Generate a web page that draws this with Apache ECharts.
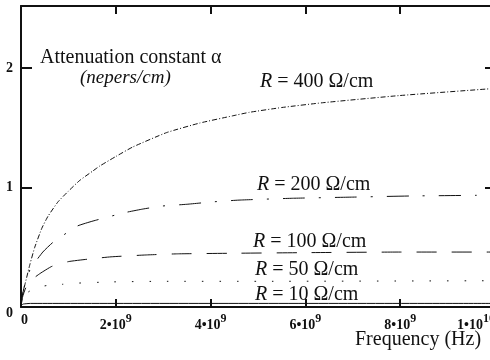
<!DOCTYPE html>
<html>
<head>
<meta charset="utf-8">
<script src="https://cdn.jsdelivr.net/npm/echarts@6/dist/echarts.min.js"></script>
<style>html,body{margin:0;padding:0;background:#fff}#c{width:490px;height:360px}</style>
</head>
<body>
<div id="c"></div>
<script>
// ---- data (frequency in Hz, attenuation in nepers/cm) ----
var f400 = [0, 0.03e9, 0.084e9, 0.19e9, 0.29e9, 0.44e9, 0.57e9, 0.78e9, 1.0e9, 1.24e9, 1.52e9, 1.66e9, 2.0e9, 2.36e9, 3.07e9, 3.77e9, 4.46e9, 4.82e9, 5.5e9, 6.36e9, 7.98e9, 10e9];
var a400 = [0, 0.10, 0.19, 0.36, 0.50, 0.66, 0.76, 0.88, 0.97, 1.06, 1.14, 1.18, 1.26, 1.34, 1.46, 1.54, 1.60, 1.63, 1.67, 1.71, 1.77, 1.83];
var f200 = [0, 0.03e9, 0.1e9, 0.2e9, 0.46e9, 0.67e9, 1.0e9, 1.2e9, 1.52e9, 2.19e9, 2.57e9, 2.97e9, 3.5e9, 4.04e9, 4.6e9, 5.7e9, 7.0e9, 8.3e9, 9.6e9, 10e9];
var a200 = [0, 0.10, 0.22, 0.32, 0.46, 0.54, 0.63, 0.68, 0.72, 0.79, 0.82, 0.845, 0.86, 0.88, 0.895, 0.91, 0.92, 0.93, 0.935, 0.94];
var f100 = [0, 0.03e9, 0.1e9, 0.2e9, 0.4e9, 0.65e9, 1.0e9, 1.4e9, 1.9e9, 2.6e9, 3.3e9, 4.5e9, 6e9, 8e9, 10e9];
var a100 = [0, 0.08, 0.16, 0.22, 0.28, 0.34, 0.38, 0.40, 0.42, 0.435, 0.445, 0.45, 0.455, 0.46, 0.46];
var f50 = [0, 0.02e9, 0.1e9, 0.3e9, 0.55e9, 0.87e9, 1.2e9, 1.9e9, 3e9, 5e9, 10e9];
var a50 = [0, 0.05, 0.11, 0.16, 0.18, 0.19, 0.20, 0.21, 0.215, 0.215, 0.22];
var f10 = [0, 0.01e9, 0.05e9, 0.2e9, 10e9];
var a10 = [0, 0.015, 0.025, 0.03, 0.03];

var xTickValues = [0, 2e9, 4e9, 6e9, 8e9, 1e10];
var xTickMant = ['0', '2\u202210', '4\u202210', '6\u202210', '8\u202210', '1\u202210'];
var xTickExp = ['', '9', '9', '9', '9', '10'];
var yTickLabels = ['0', '1', '2'];
var curveLabels = ['400', '200', '100', '50', '10'];

function pairs(xs, ys) { return xs.map(function (x, i) { return [x, ys[i]]; }); }

var SERIF = '"Liberation Serif", "Times New Roman", serif';
var INK = '#111';

var chart = echarts.init(document.getElementById('c'), null, {renderer: 'canvas'});

function lineSeries(name, data, type) {
  return {
    name: name, type: 'line', data: data, showSymbol: false, symbol: 'none',
    smooth: 0.15, clip: true, silent: true,
    lineStyle: {color: INK, width: 1, type: type}
  };
}

function curveText(r, x, y) {
  return {
    type: 'text', x: x, y: y,
    style: {
      text: '{i|R}{n| = ' + r + ' \u03A9/cm}',
      verticalAlign: 'middle', align: 'left',
      rich: {
        i: {fontFamily: SERIF, fontSize: 20, fontStyle: 'italic', fill: INK, color: INK},
        n: {fontFamily: SERIF, fontSize: 20, fill: INK, color: INK}
      }
    }
  };
}

chart.setOption({
  animation: false,
  backgroundColor: '#fff',
  grid: {left: 21, right: -5, top: 6, bottom: 53, containLabel: false, outerBoundsMode: 'none'},
  xAxis: [{
    type: 'value', min: 0, max: 1e10, interval: 2e9, position: 'bottom',
    axisLine: {show: true, onZero: false, lineStyle: {color: INK, width: 2}},
    axisTick: {show: true, inside: true, length: 8, lineStyle: {color: INK, width: 2}},
    splitLine: {show: false},
    axisLabel: {
      show: true, margin: 6, alignMinLabel: 'left', alignMaxLabel: 'right',
      formatter: function (v) {
        var i = xTickValues.indexOf(v);
        if (i < 0) return '';
        if (!xTickExp[i]) return '{b|' + xTickMant[i] + '}';
        return '{b|' + xTickMant[i] + '}{s|' + xTickExp[i] + '}';
      },
      rich: {
        b: {fontFamily: SERIF, fontSize: 14, fontWeight: 'bold', color: INK, verticalAlign: 'bottom'},
        s: {fontFamily: SERIF, fontSize: 12, fontWeight: 'bold', color: INK, verticalAlign: 'top', padding: [0, 0, 7, 0]}
      }
    }
  }, {
    type: 'value', min: 0, max: 1e10, interval: 2e9, position: 'top',
    axisLine: {show: true, onZero: false, lineStyle: {color: INK, width: 2}},
    axisTick: {show: true, inside: true, length: 8, lineStyle: {color: INK, width: 2}},
    splitLine: {show: false}, axisLabel: {show: false}
  }],
  yAxis: [{
    type: 'value', min: 0, max: 2.52, interval: 1, position: 'left',
    axisLine: {show: true, onZero: false, lineStyle: {color: INK, width: 2}},
    axisTick: {show: true, inside: true, length: 11, lineStyle: {color: INK, width: 2}},
    splitLine: {show: false},
    axisLabel: {
      show: true, margin: 8,
      formatter: function (v) {
        var i = Math.round(v);
        if (Math.abs(v - i) > 1e-6 || i >= yTickLabels.length) return '';
        return i === 0 ? '{z|' + yTickLabels[i] + '}' : '{b|' + yTickLabels[i] + '}';
      },
      rich: {
        b: {fontFamily: SERIF, fontSize: 14, fontWeight: 'bold', color: INK},
        z: {fontFamily: SERIF, fontSize: 14, fontWeight: 'bold', color: INK, padding: [12, 0, 0, 0]}
      }
    }
  }, {
    type: 'value', min: 0, max: 2.52, interval: 1, position: 'right',
    axisLine: {show: true, onZero: false, lineStyle: {color: INK, width: 2}},
    axisTick: {show: true, inside: true, length: 10, lineStyle: {color: INK, width: 2}},
    splitLine: {show: false}, axisLabel: {show: false}
  }],
  series: [
    lineSeries('R400', pairs(f400, a400), [5, 2, 1, 2]),
    lineSeries('R200', pairs(f200, a200), [22, 14, 2, 14]),
    lineSeries('R100', pairs(f100, a100), [20, 15]),
    lineSeries('R50', pairs(f50, a50), [1.5, 16]),
    lineSeries('R10', pairs(f10, a10), 'solid')
  ],
  graphic: [
    {type: 'text', x: 40, y: 58, style: {text: 'Attenuation constant \u03B1', font: '20px ' + SERIF, fill: INK, verticalAlign: 'middle'}},
    {type: 'text', x: 80, y: 78, style: {text: '(nepers/cm)', font: 'italic 19px ' + SERIF, fill: INK, verticalAlign: 'middle'}},
    curveText(curveLabels[0], 260, 82),
    curveText(curveLabels[1], 257, 185),
    curveText(curveLabels[2], 253, 242),
    curveText(curveLabels[3], 255, 270),
    curveText(curveLabels[4], 255, 295),
    {type: 'text', x: 355, y: 340, style: {text: 'Frequency (Hz)', font: '20px ' + SERIF, fill: INK, verticalAlign: 'middle'}}
  ]
});
</script>
</body>
</html>
